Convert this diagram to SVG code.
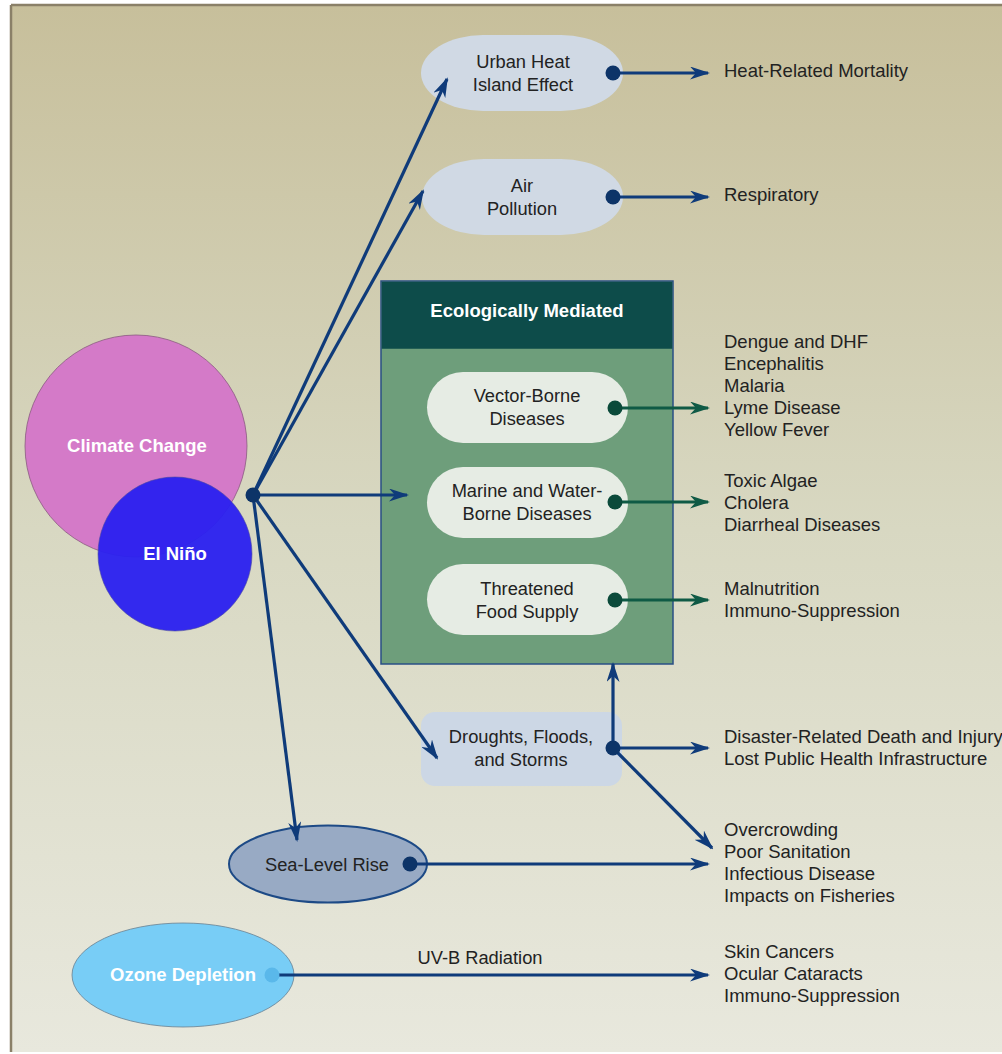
<svg xmlns="http://www.w3.org/2000/svg" width="1002" height="1054" viewBox="0 0 1002 1054">
<defs>
<linearGradient id="bg" x1="0" y1="0" x2="0" y2="1">
<stop offset="0" stop-color="#c7bf9b"/>
<stop offset="0.5" stop-color="#d8d8c2"/>
<stop offset="1" stop-color="#e8e8dd"/>
</linearGradient>
<marker id="ab" viewBox="0 0 20 13" refX="18" refY="6.5" markerWidth="20" markerHeight="13" markerUnits="userSpaceOnUse" orient="auto">
<path d="M0,0 L20,6.5 L0,13 L6,6.5 z" fill="#0f3b7a"/>
</marker>
<marker id="ag" viewBox="0 0 20 13" refX="18" refY="6.5" markerWidth="20" markerHeight="13" markerUnits="userSpaceOnUse" orient="auto">
<path d="M0,0 L20,6.5 L0,13 L6,6.5 z" fill="#0f5a45"/>
</marker>
</defs>
<style>
.t{font-family:"Liberation Sans",Arial,sans-serif;font-size:18.5px;fill:#222}
.n{font-family:"Liberation Sans",Arial,sans-serif;font-size:18.3px;fill:#222;text-anchor:middle}
.w{font-family:"Liberation Sans",Arial,sans-serif;font-size:18.5px;font-weight:bold;fill:#fff;text-anchor:middle}
.cb{stroke:#0f3b7a;stroke-width:3.2;fill:none}
.cg{stroke:#0f5a45;stroke-width:3.2;fill:none}
.db{fill:#0d3468}
.dg{fill:#0b4a3a}
.pill{fill:#d0d9e4}
.epill{fill:#e6ece4}
</style>
<rect x="0" y="0" width="1002" height="1054" fill="#ffffff"/>
<rect x="11" y="6" width="991" height="1046" fill="url(#bg)"/>
<line x1="11" y1="5" x2="1002" y2="5" stroke="#8a8068" stroke-width="2.5"/>
<line x1="11" y1="5" x2="11" y2="1052" stroke="#8a8068" stroke-width="2.5"/>

<g id="eco-box">
<rect x="381" y="281" width="292" height="383" fill="#6e9e7b" stroke="#2a4f85" stroke-width="1.5"/>
<rect x="381.75" y="281.75" width="290.5" height="67" fill="#0d4c4a"/>
<text class="w" x="527" y="317" font-size="17.4">Ecologically Mediated</text>
</g>

<g id="climate-change">
<circle cx="136" cy="446" r="111" fill="#d47ac8" stroke="#8a5a80" stroke-width="0.8"/>
<text class="w" x="137" y="452" font-size="18.8">Climate Change</text>
</g>
<g id="el-nino">
<circle cx="175" cy="554" r="77" fill="#2a20f0" fill-opacity="0.95" stroke="#4a4aa0" stroke-width="0.6"/>
<text class="w" x="175" y="560">El Niño</text>
</g>

<g id="urban-heat">
<rect class="pill" x="421" y="35" width="202" height="76" rx="62" ry="38"/>
<text class="n" x="523" y="68">Urban Heat</text>
<text class="n" x="523" y="91">Island Effect</text>
</g>
<g id="air-pollution">
<rect class="pill" x="422" y="159" width="201" height="76" rx="62" ry="38"/>
<text class="n" x="522" y="192">Air</text>
<text class="n" x="522" y="215">Pollution</text>
</g>
<g id="vector-borne">
<rect class="epill" x="427" y="372" width="201" height="71" rx="36" ry="35.5"/>
<text class="n" x="527" y="402">Vector-Borne</text>
<text class="n" x="527" y="425">Diseases</text>
</g>
<g id="marine">
<rect class="epill" x="427" y="467" width="201" height="71" rx="36" ry="35.5"/>
<text class="n" x="527" y="497">Marine and Water-</text>
<text class="n" x="527" y="520">Borne Diseases</text>
</g>
<g id="food-supply">
<rect class="epill" x="427" y="564" width="201" height="71" rx="36" ry="35.5"/>
<text class="n" x="527" y="595">Threatened</text>
<text class="n" x="527" y="618">Food Supply</text>
</g>
<g id="droughts">
<rect x="421" y="712" width="201" height="74" rx="14" fill="#ccd7e5"/>
<text class="n" x="521" y="743">Droughts, Floods,</text>
<text class="n" x="521" y="766">and Storms</text>
</g>
<g id="sea-level">
<ellipse cx="328" cy="864" rx="99" ry="38.5" fill="#98aac4" stroke="#1d4a86" stroke-width="2"/>
<text class="n" x="327" y="871" font-size="19.5">Sea-Level Rise</text>
</g>
<g id="ozone">
<ellipse cx="183" cy="975" rx="111" ry="52" fill="#78cdf6" stroke="#6a8090" stroke-width="0.8"/>
<text class="w" x="183" y="981">Ozone Depletion</text>
</g>

<g id="connectors">
<line class="cb" x1="253" y1="495" x2="447" y2="79" marker-end="url(#ab)"/>
<line class="cb" x1="253" y1="495" x2="423" y2="191" marker-end="url(#ab)"/>
<line class="cb" x1="253" y1="495" x2="407" y2="495" marker-end="url(#ab)"/>
<line class="cb" x1="253" y1="495" x2="437" y2="758" marker-end="url(#ab)"/>
<line class="cb" x1="253" y1="495" x2="297" y2="840" marker-end="url(#ab)"/>
<circle class="db" cx="253" cy="495" r="7.5"/>

<line class="cb" x1="613" y1="73" x2="708" y2="73" marker-end="url(#ab)"/>
<circle class="db" cx="613" cy="73" r="7.5"/>
<line class="cb" x1="613" y1="197" x2="708" y2="197" marker-end="url(#ab)"/>
<circle class="db" cx="613" cy="197" r="7.5"/>

<line class="cg" x1="615" y1="408" x2="708" y2="408" marker-end="url(#ag)"/>
<circle class="dg" cx="615" cy="408" r="7.5"/>
<line class="cg" x1="615" y1="502" x2="708" y2="502" marker-end="url(#ag)"/>
<circle class="dg" cx="615" cy="502" r="7.5"/>
<line class="cg" x1="615" y1="600" x2="708" y2="600" marker-end="url(#ag)"/>
<circle class="dg" cx="615" cy="600" r="7.5"/>

<line class="cb" x1="613" y1="748" x2="613" y2="664" marker-end="url(#ab)"/>
<line class="cb" x1="613" y1="748" x2="708" y2="748" marker-end="url(#ab)"/>
<line class="cb" x1="613" y1="748" x2="712" y2="848" marker-end="url(#ab)"/>
<circle class="db" cx="613" cy="748" r="7.5"/>

<line class="cb" x1="410" y1="864" x2="708" y2="864" marker-end="url(#ab)"/>
<circle class="db" cx="410" cy="864" r="7.5"/>

<line class="cb" x1="272" y1="975" x2="708" y2="975" marker-end="url(#ab)"/>
<circle cx="272" cy="975" r="7.5" fill="#5ab8ea"/>
<text class="n" x="480" y="964" font-size="19.3">UV-B Radiation</text>
</g>

<g id="outcomes">
<text class="t" x="724" y="77">Heat-Related Mortality</text>
<text class="t" x="724" y="201">Respiratory</text>
<text class="t" x="724" y="348">Dengue and DHF</text>
<text class="t" x="724" y="370">Encephalitis</text>
<text class="t" x="724" y="392">Malaria</text>
<text class="t" x="724" y="414">Lyme Disease</text>
<text class="t" x="724" y="436">Yellow Fever</text>
<text class="t" x="724" y="487">Toxic Algae</text>
<text class="t" x="724" y="509">Cholera</text>
<text class="t" x="724" y="531">Diarrheal Diseases</text>
<text class="t" x="724" y="595">Malnutrition</text>
<text class="t" x="724" y="617">Immuno-Suppression</text>
<text class="t" x="724" y="743">Disaster-Related Death and Injury</text>
<text class="t" x="724" y="765">Lost Public Health Infrastructure</text>
<text class="t" x="724" y="836">Overcrowding</text>
<text class="t" x="724" y="858">Poor Sanitation</text>
<text class="t" x="724" y="880">Infectious Disease</text>
<text class="t" x="724" y="902">Impacts on Fisheries</text>
<text class="t" x="724" y="958">Skin Cancers</text>
<text class="t" x="724" y="980">Ocular Cataracts</text>
<text class="t" x="724" y="1002">Immuno-Suppression</text>
</g>
</svg>
